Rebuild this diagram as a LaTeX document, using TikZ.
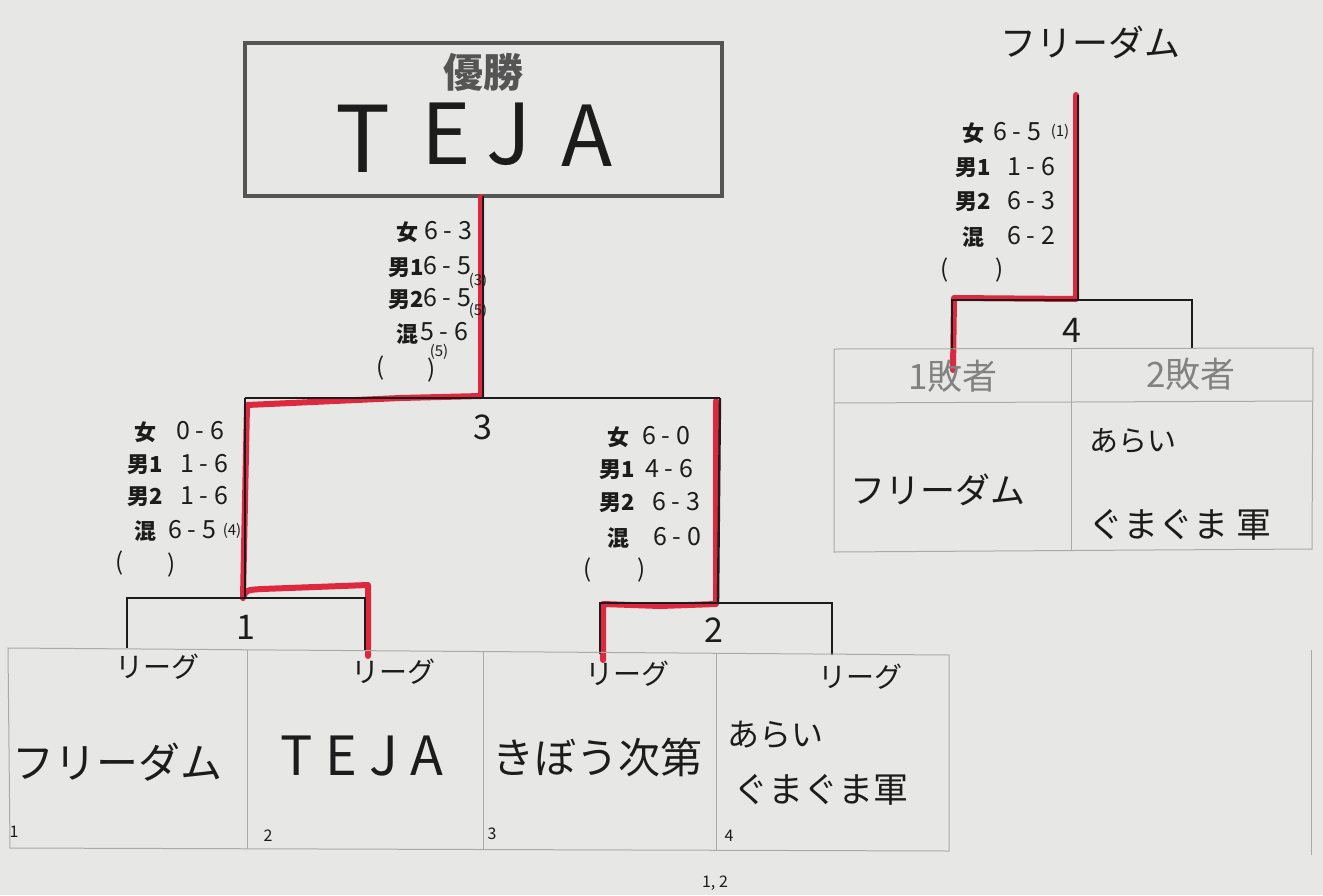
\documentclass[tikz,border=0pt]{standalone}
\usepackage{fontspec}
\setmainfont{Noto Sans CJK JP}
\definecolor{paper}{RGB}{231,231,229}
\definecolor{ink}{RGB}{28,28,28}
\definecolor{markred}{RGB}{222,40,62}
\definecolor{boxgray}{RGB}{85,85,85}
\definecolor{gridgray}{RGB}{170,170,170}
\definecolor{headgray}{RGB}{130,130,130}
\begin{document}
\begin{tikzpicture}[x=0.5pt,y=-0.5pt,
  blk/.style={draw=ink, line width=1.2pt},
  redm/.style={draw=markred, line width=3pt, line cap=round, line join=round},
  gridl/.style={draw=gridgray, line width=0.5pt},
  lbl/.style={font=\bfseries\fontsize{11}{11}\selectfont, inner sep=0pt, text=ink},
  sc/.style={font=\fontsize{12.5}{12.5}\selectfont, anchor=west, inner sep=0pt, text=ink},
  tiny/.style={font=\fontsize{7.5}{7.5}\selectfont, inner sep=0pt, text=ink},
  par/.style={font=\fontsize{12}{12}\selectfont, inner sep=0pt, text=ink},
  num/.style={font=\fontsize{17}{17}\selectfont, inner sep=0pt, text=ink},
  league/.style={font=\fontsize{14}{14}\selectfont, inner sep=0pt, text=ink},
  hand/.style={inner sep=0pt, text=ink},
  idx/.style={font=\fontsize{8}{8}\selectfont, inner sep=0pt, text=ink},
  lose/.style={font=\fontsize{17.5}{17.5}\selectfont, inner sep=0pt, text=headgray}
]
\useasboundingbox (0,0) rectangle (1323,895);
\fill[paper] (0,0) rectangle (1323,895);

% ---------- winner box ----------
\draw[draw=boxgray, line width=2pt] (245,43) rectangle (722,196);
\node[font=\bfseries\fontsize{20}{20}\selectfont, text=boxgray, inner sep=0pt] (yusho) at (483,72) {優勝};
\node[hand, font=\fontsize{46}{46}\selectfont] (wT) at (363,139) {T};
\node[hand, font=\fontsize{42}{42}\selectfont] (wE) at (446,134) {E};
\node[hand, font=\fontsize{42}{42}\selectfont] (wJ) at (509,134) {J};
\node[hand, font=\fontsize{42}{42}\selectfont] (wA) at (587,136) {A};

% ---------- bracket coordinates ----------
\coordinate (fTop) at (483,196);
\coordinate (fMid) at (483,398);
\coordinate (fL) at (245,398);
\coordinate (fR) at (720,398);
\coordinate (s1Top) at (245,598);
\coordinate (s1L) at (127,598);
\coordinate (s1R) at (365,598);
\coordinate (s1Lb) at (127,648);
\coordinate (s1Rb) at (365,651);
\coordinate (s2Top) at (718,603);
\coordinate (s2L) at (600,603);
\coordinate (s2R) at (832,603);
\coordinate (s2Lb) at (600,654);
\coordinate (s2Rb) at (832,655);
\coordinate (r4Top) at (1078,95);
\coordinate (r4Mid) at (1078,300);
\coordinate (r4L) at (952,300);
\coordinate (r4R) at (1192,300);
\coordinate (r4Lb) at (952,350);
\coordinate (r4Rb) at (1192,349);

% ---------- red marker (winning path) ----------
\draw[redm] (481,197) -- (481,396) -- (400,398) -- (247,405) -- (243,598)
  .. controls (246,590) .. (262,589) -- (368,585) -- (368,656);
\draw[redm] (716,401) -- (716,604) -- (660,606) -- (603,604) -- (603,660);
\draw[redm] (1076,95) -- (1076,299) -- (954,298) -- (953,370);

% ---------- black bracket lines ----------
\draw[blk] (fTop) -- (fMid);
\draw[blk] (fL) -- (fR);
\draw[blk] (fL) -- (s1Top);
\draw[blk] (fR) -- (s2Top);
\draw[blk] (s1Lb) -- (s1L) -- (s1R) -- (s1Rb);
\draw[blk] (s2Lb) -- (s2L) -- (s2R) -- (s2Rb);
\draw[blk] (r4Top) -- (r4Mid);
\draw[blk] (r4Lb) -- (r4L) -- (r4R) -- (r4Rb);

\node[num] (n3) at (483,427) {3};
\node[num] (n1) at (246,627) {1};
\node[num] (n2) at (714,630) {2};
\node[num] (n4) at (1072,330) {4};

% ---------- bottom table ----------
\draw[gridl] (8,648) -- (949,655) -- (949,851) -- (10,848) -- cycle;
\draw[gridl] (247,650) -- (247,849);
\draw[gridl] (483,652) -- (483,850);
\draw[gridl] (716,654) -- (716,850);
\node[league] (lg1) at (157,667) {リーグ};
\node[league] (lg2) at (393,672) {リーグ};
\node[league] (lg3) at (627,674) {リーグ};
\node[league] (lg4) at (860,677) {リーグ};
\node[hand, font=\fontsize{21}{21}\selectfont] (t1) at (117,762) {フリーダム};
\node[hand, font=\fontsize{27}{27}\selectfont] (t2) at (362,756) {T E J A};
\node[hand, font=\fontsize{21}{21}\selectfont] (t3) at (597,757) {きぼう次第};
\node[hand, font=\fontsize{16}{16}\selectfont] (t4a) at (775,735) {あらい};
\node[hand, font=\fontsize{17.5}{17.5}\selectfont] (t4b) at (821,790) {ぐまぐま軍};
\node[idx] (i1) at (14,832) {1};
\node[idx] (i2) at (268,836) {2};
\node[idx] (i3) at (492,834) {3};
\node[idx] (i4) at (729,836) {4};
\node[idx] (i12) at (715,883) {1, 2};
\draw[draw=gridgray, line width=0.5pt] (1311,650) -- (1311,855);

% ---------- right (loser) table ----------
\node[hand, font=\fontsize{18}{18}\selectfont] (topname) at (1090,42) {フリーダム};
\draw[gridl] (834,349) -- (1313,348) -- (1312,549) -- (834,552) -- cycle;
\draw[gridl] (834,403) -- (1312,401);
\draw[gridl] (1071,349) -- (1071,551);
\node[lose] (l1) at (953,376) {1敗者};
\node[lose] (l2) at (1191,374) {2敗者};
\node[hand, font=\fontsize{17.5}{17.5}\selectfont] (rt1) at (938,490) {フリーダム};
\node[hand, font=\fontsize{14.5}{14.5}\selectfont] (rt2a) at (1133,441) {あらい};
\node[hand, font=\fontsize{17.5}{17.5}\selectfont] (rt2b) at (1180,525) {ぐまぐま 軍};

% ---------- scores: final ----------
\node[lbl] (fa1) at (407,232) {女};
\node[sc]  (fb1) at (424,231) {6 - 3};
\node[lbl] (fa2) at (406,268) {男1};
\node[sc]  (fb2) at (423,266) {6 - 5};
\node[tiny] (fc2) at (478,281) {(3)};
\node[lbl] (fa3) at (406,300) {男2};
\node[sc]  (fb3) at (423,298) {6 - 5};
\node[tiny] (fc3) at (478,311) {(5)};
\node[lbl] (fa4) at (407,334) {混};
\node[sc]  (fb4) at (420,332) {5 - 6};
\node[tiny] (fc4) at (439,352) {(5)};
\node[par] (fp1) at (381,368) {(};
\node[par] (fp2) at (432,370) {)};

% ---------- scores: semi 1 ----------
\node[lbl] (aa1) at (145,432) {女};
\node[sc]  (ab1) at (176,431) {0 - 6};
\node[lbl] (aa2) at (145,465) {男1};
\node[sc]  (ab2) at (180,464) {1 - 6};
\node[lbl] (aa3) at (145,497) {男2};
\node[sc]  (ab3) at (180,496) {1 - 6};
\node[lbl] (aa4) at (145,531) {混};
\node[sc]  (ab4) at (168,530) {6 - 5};
\node[tiny] (ac4) at (232,531) {(4)};
\node[par] (ap1) at (120,563) {(};
\node[par] (ap2) at (172,565) {)};

% ---------- scores: semi 2 ----------
\node[lbl] (ba1) at (618,437) {女};
\node[sc]  (bb1) at (642,436) {6 - 0};
\node[lbl] (ba2) at (617,470) {男1};
\node[sc]  (bb2) at (645,469) {4 - 6};
\node[lbl] (ba3) at (617,503) {男2};
\node[sc]  (bb3) at (652,502) {6 - 3};
\node[lbl] (ba4) at (618,538) {混};
\node[sc]  (bb4) at (653,537) {6 - 0};
\node[par] (bp1) at (588,570) {(};
\node[par] (bp2) at (642,570) {)};

% ---------- scores: loser match ----------
\node[lbl] (ca1) at (973,133) {女};
\node[sc]  (cb1) at (993,132) {6 - 5};
\node[tiny] (cc1) at (1060,132) {(1)};
\node[lbl] (ca2) at (973,168) {男1};
\node[sc]  (cb2) at (1007,167) {1 - 6};
\node[lbl] (ca3) at (973,202) {男2};
\node[sc]  (cb3) at (1007,201) {6 - 3};
\node[lbl] (ca4) at (973,237) {混};
\node[sc]  (cb4) at (1007,236) {6 - 2};
\node[par] (cp1) at (945,270) {(};
\node[par] (cp2) at (1000,270) {)};
\end{tikzpicture}
\end{document}
